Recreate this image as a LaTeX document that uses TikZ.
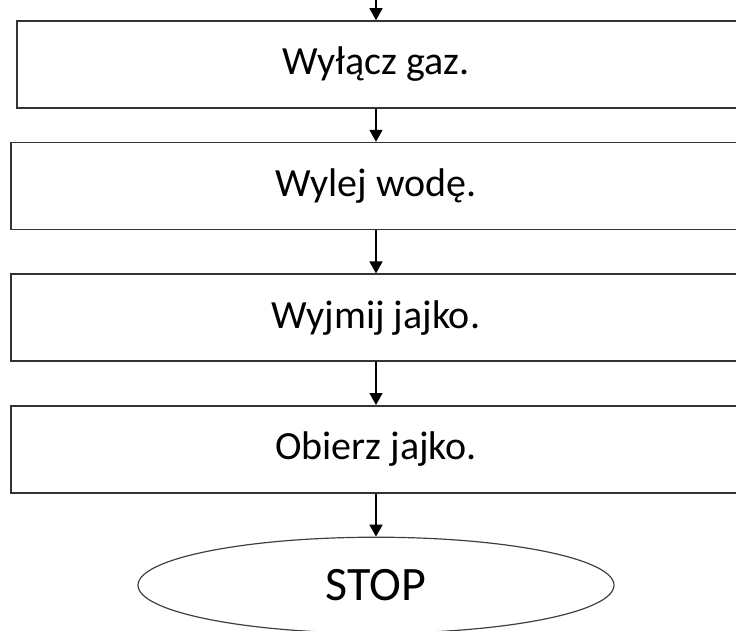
\documentclass[tikz,border=0pt]{standalone}
\usepackage{fontspec}
\setmainfont{Carlito}
\usepackage{tikz}
\usetikzlibrary{shapes.geometric, arrows.meta, positioning, calc}

\tikzset{
  krok/.style={draw=black!80, line width=1.6pt, rectangle, minimum width=730pt, minimum height=87pt, inner sep=0pt, font=\fontsize{40}{46}\selectfont},
  koniec/.style={draw=black!75, line width=1.2pt, ellipse, minimum width=476pt, minimum height=96pt, inner sep=0pt, font=\fontsize{48}{54}\selectfont},
  strz/.style={-{Triangle[length=12pt,width=13pt]}, line width=1.6pt}
}

\begin{document}
\begin{tikzpicture}[x=1pt, y=1pt, node distance=43pt]
\useasboundingbox (0,0) rectangle (736,-630);
% kroki
\node[krok, minimum width=725pt] (gaz) at (379.5,-64.5) {\hspace*{-7pt}Wyłącz gaz.};
\node[krok, below=33pt of gaz, xshift=-3.5pt] (woda) {Wylej wodę.};
\node[krok, below=of woda] (wyjmij) {Wyjmij jajko.};
\node[krok, below=of wyjmij] (obierz) {Obierz jajko.};
\node[koniec, below=of obierz] (stop) {STOP};
% strzalki
\coordinate (start) at (376,0);
\draw[strz] (start) -- (gaz.north -| start);
\draw[strz] (gaz.south -| start) -- (woda);
\draw[strz] (woda) -- (wyjmij);
\draw[strz] (wyjmij) -- (obierz);
\draw[strz] (obierz) -- (stop);
\end{tikzpicture}
\end{document}
